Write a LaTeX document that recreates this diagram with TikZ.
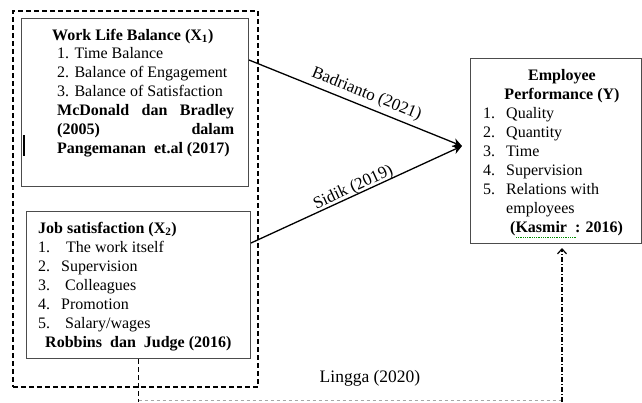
\documentclass[tikz,border=0pt]{standalone}
\usepackage{fontspec}
\setmainfont{Liberation Serif}
\usetikzlibrary{arrows.meta}

\begin{document}
\begin{tikzpicture}[x=1pt, y=-1pt, >={Stealth[length=9pt,width=9pt]},
  every node/.style={font=\fontsize{16}{19}\selectfont, inner sep=0pt},
  frame/.style={draw=black!70, line width=1pt, anchor=north west},
  link/.style={line width=1.3pt},
  line/.style={anchor=base west},
  cite/.style={font=\fontsize{17}{19}\selectfont}]
  \useasboundingbox (0,0) rectangle (642,402);

  % The dashed frame round both variables
  \node [frame, draw=black, dash pattern=on 5pt off 3pt, line width=1.8pt,
         minimum width=245pt, minimum height=376pt] (outer) at (12,10) {};

  % Work life balance
  \node [frame, minimum width=227pt, minimum height=168pt] (x1) at (21,18) {};
  % Job satisfaction
  \node [frame, minimum width=224pt, minimum height=147pt] (x2) at (26,211) {};
  % Employee performance
  \node [frame, minimum width=171pt, minimum height=185pt] (y) at (470,58) {};

  % Text of X1
  \node [line] (x1t) at (52,40) {\bfseries Work Life Balance (X\textsubscript{1})};
  \foreach \t [count=\i] in {Time Balance, Balance of Engagement, Balance of Satisfaction}
    \node [line] (x1\i) at (57,40+18.8*\i) {\i. \t};
  \node [line] (x1r1) at (57,115.4) {\hbox to 177pt{\bfseries McDonald\hfill dan\hfill Bradley}};
  \node [line] (x1r2) at (57,134.2) {\hbox to 177pt{\bfseries (2005)\hfill dalam}};
  \node [line] (x1r3) at (57,153) {\bfseries Pangemanan\ \ et.al (2017)};
  \draw [line width=1.2pt] (24,135) -- (24,156);

  % Text of X2
  \node [line] (x2t) at (38,233) {\bfseries Job satisfaction (X\textsubscript{2})};
  \foreach \t/\g [count=\i] in {The work itself/28, Supervision/23, Colleagues/27,
                                Promotion/23, Salary\slash wages/27}
    \node [line] (x2\i) at (38,233+19*\i) {\makebox[\g pt][l]{\i.}\t};
  \node [line] (x2r) at (45,347) {\bfseries Robbins\ \ dan\ \ Judge (2016)};

  % Text of Y
  \node [anchor=base] (yt1) at (562,80) {\bfseries Employee};
  \node [anchor=base] (yt2) at (562,99) {\bfseries Performance (Y)};
  \foreach \t [count=\i] in {Quality, Quantity, Time, Supervision, Relations with}
    \node [line] (y\i) at (483,99+19*\i) {\makebox[23pt][l]{\i.}\t};
  \node [line] (y6) at (506,213) {employees};
  \node [line] (yr) at (510,232) {\bfseries (Kasmir\ \ : 2016)};
  \draw [green!55!black, densely dotted, line width=0.8pt] (516,237) -- (577,237);

  % Where the two lines meet
  \coordinate (tip) at (462,146);

  % X1 -> Y and X2 -> Y
  \draw [link, ->] ([yshift=-42pt]x1.north east) -- node [cite, sloped, above=4pt, pos=0.53] (c1) {Badrianto (2021)} (tip);
  \draw [link, ->] ([yshift=-32pt]x2.north east) -- node [cite, sloped, above=-1pt, pos=0.5] (c2) {Sidik (2019)} (tip);

  % X2 -> Y along the bottom
  \coordinate (l1) at (x2.south |- 0,402);
  \coordinate (l2) at (562,400);
  \coordinate (l3) at (562,402);
  \coordinate (l4) at (562,248);
  \draw [line width=1.4pt, dash pattern=on 5pt off 3pt] (x2.south) -- (l1);
  \draw [black!35, line width=1pt, dash pattern=on 3pt off 3pt] (x2.south |- l2) -- (l2);
  \draw [line width=1.2pt, dash pattern=on 5pt off 2pt on 1pt off 2pt,
         -{Straight Barb[length=5pt,width=9pt]}] (l3) -- (l4);
  \node [cite, font=\fontsize{17.5}{19}\selectfont] (lingga) at (370,378) {Lingga (2020)};
\end{tikzpicture}
\end{document}
